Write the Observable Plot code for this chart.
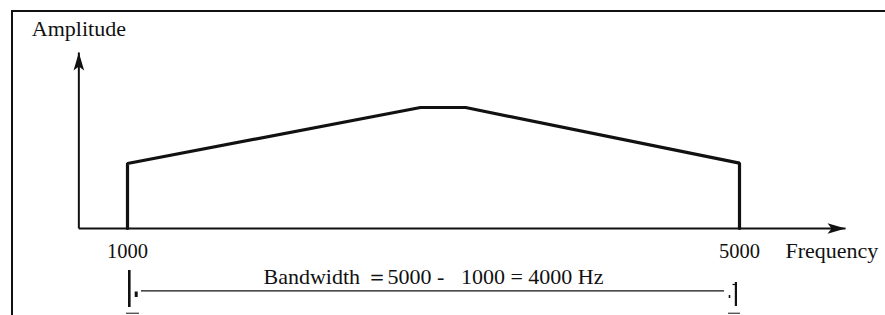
<!DOCTYPE html>
<html>
<head>
<meta charset="utf-8">
<script src="https://cdn.jsdelivr.net/npm/d3@7"></script>
<script src="https://cdn.jsdelivr.net/npm/@observablehq/plot@0.6"></script>
<style>
  html, body { margin: 0; padding: 0; background: #fff; }
  #wrap { position: relative; width: 885px; height: 315px; overflow: hidden; }
  #chart svg { display: block; }
  #chart svg text { white-space: pre; font-family: "Liberation Serif", "Times New Roman", serif !important; }
  #border { position: absolute; left: 11px; top: 10px; width: 880px; height: 310px;
            border-left: 2px solid #111; border-top: 2px solid #111; pointer-events: none; }
</style>
</head>
<body>
<div id="wrap"><div id="chart"></div><div id="border"></div></div>
<script>
// Spectrum outline (frequency in Hz, relative amplitude)
const spectrumFreq = [1000, 1000, 2915, 3210, 5000, 5000];
const spectrumAmp  = [0, 0.537, 1, 1, 0.54, 0];
// Axis extents (arrowed)
const axisFreq = [682, 5693];
const axisAmp  = [0, 1.455];
// Tick labels
const tickValues = [1000, 5000];
const tickLabels = ["1000", "5000"];
const xLabel = "Frequency";
const xLabelFreq = 5300;
const yLabel = "Amplitude";
// Bandwidth annotation
const bandLow = 1000, bandHigh = 5000;
const bandText = "Bandwidth \uFF1D5000 -   1000 = 4000 Hz";

const spectrum = spectrumFreq.map((f, i) => ({f, a: spectrumAmp[i]}));
const axes = [
  {x1: axisFreq[0], y1: axisAmp[0], x2: axisFreq[0], y2: axisAmp[1]},
  {x1: axisFreq[0], y1: axisAmp[0], x2: axisFreq[1], y2: axisAmp[0]}
];
const ticks = tickValues.map((v, i) => ({v, label: tickLabels[i]}));

function arrowHead(color, context) {
  const ns = "http://www.w3.org/2000/svg";
  const doc = (context && context.document) || document;
  const m = doc.createElementNS(ns, "marker");
  m.setAttribute("viewBox", "-19 -6 20 12");
  m.setAttribute("markerWidth", 20);
  m.setAttribute("markerHeight", 12);
  m.setAttribute("markerUnits", "userSpaceOnUse");
  m.setAttribute("orient", "auto");
  m.setAttribute("refX", 0);
  m.setAttribute("refY", 0);
  const p = doc.createElementNS(ns, "path");
  p.setAttribute("d", "M0,0L-18,-5.3L-14,0L-18,5.3Z");
  p.setAttribute("fill", color);
  p.setAttribute("stroke", "none");
  m.append(p);
  return m;
}

const font = "Liberation Serif";
const ink = "#111";
const fsDigits = 20.5;
const fsWords = 22;

const chart = Plot.plot({
  width: 885,
  height: 315,
  margin: 0,
  x: {domain: [bandLow, bandHigh], range: [127, 739], axis: null},
  y: {domain: [0, 1], range: [228, 107], axis: null},
  style: {background: "#fff", color: ink},
  marks: [
    Plot.link(axes, {x1: "x1", y1: "y1", x2: "x2", y2: "y2", stroke: ink, strokeWidth: 2, markerEnd: arrowHead}),
    Plot.line(spectrum, {x: "f", y: "a", stroke: ink, strokeWidth: 3.2, strokeLinejoin: "miter"}),
    Plot.text(ticks, {x: "v", y: () => 0, text: "label", fontFamily: font, fontSize: fsDigits, fill: ink, dy: 22.6}),
    Plot.text([xLabel], {x: () => xLabelFreq, y: () => 0, text: d => d, textAnchor: "start", fontFamily: font, fontSize: fsWords, fill: ink, dy: 22}),
    Plot.text([yLabel], {x: () => axisFreq[0], y: () => axisAmp[1], text: d => d, fontFamily: font, fontSize: fsWords, fill: ink, dy: -23.5}),
    Plot.text([bandText], {x: () => (bandLow + bandHigh) / 2, y: () => 0, text: d => d, fontFamily: font, fontSize: fsWords, fill: ink, dy: 48}),
    // bandwidth line
    Plot.ruleY([0], {x1: () => bandLow, x2: () => bandHigh, dy: 62.3, insetLeft: 14, insetRight: 15, stroke: ink, strokeWidth: 1.3}),
    // left marker
    Plot.tickX([bandLow], {x: d => d, dx: 1.8, insetTop: 270, insetBottom: 8, stroke: ink, strokeWidth: 2.6}),
    Plot.tickX([bandLow], {x: d => d, dx: 8.7, insetTop: 291.5, insetBottom: 18, stroke: ink, strokeWidth: 3}),
    Plot.ruleY([0], {x1: () => bandLow, x2: () => bandLow, dy: 84.8, insetLeft: -1, insetRight: -12, stroke: "#555", strokeWidth: 1.4}),
    // right marker
    Plot.tickX([bandHigh], {x: d => d, dx: -10, insetTop: 295, insetBottom: 17, stroke: ink, strokeWidth: 1.6}),
    Plot.tickX([bandHigh], {x: d => d, dx: -3.6, insetTop: 282, insetBottom: 9, stroke: ink, strokeWidth: 2.2}),
    Plot.ruleY([0], {x1: () => bandHigh, x2: () => bandHigh, dy: 56, insetLeft: -6.5, insetRight: 4, stroke: ink, strokeWidth: 1.2}),
    Plot.ruleY([0], {x1: () => bandHigh, x2: () => bandHigh, dy: 84.8, insetLeft: -11, insetRight: -1, stroke: "#555", strokeWidth: 1.4})
  ]
});
document.getElementById("chart").append(chart);
</script>
</body>
</html>
